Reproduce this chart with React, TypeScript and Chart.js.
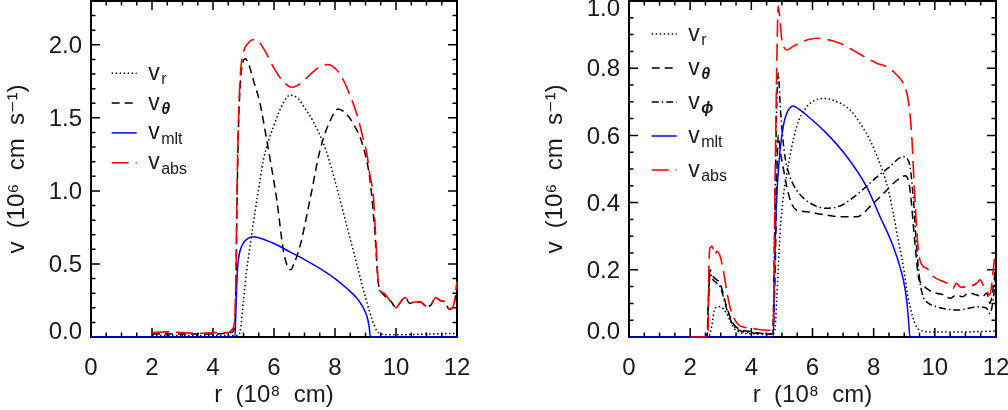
import { useEffect, useRef } from "react";
import { Chart, registerables } from "chart.js";

Chart.register(...registerables);

type Pt = [number, number];

// ---- left panel: r (10^8 cm) vs v (10^6 cm/s) ----
const leftVr: Pt[] = [
  [2.0, 0.01], [3.0, 0.01], [4.0, 0.01], [4.8, 0.01], [4.9, 0.05], [5.0, 0.25],
  [5.1, 0.45], [5.2, 0.6], [5.3, 0.75], [5.45, 0.95], [5.65, 1.21], [6.0, 1.45],
  [6.3, 1.6], [6.52, 1.655], [6.8, 1.63], [7.0, 1.57], [7.3, 1.47], [7.7, 1.28],
  [8.0, 1.07], [8.2, 0.91], [8.4, 0.75], [8.6, 0.59], [8.8, 0.43], [9.0, 0.27],
  [9.2, 0.13], [9.35, 0.05], [9.5, 0.02], [10.0, 0.015], [11.0, 0.02], [12.0, 0.025],
];
const leftVtheta: Pt[] = [
  [2.0, 0.02], [3.0, 0.02], [4.0, 0.02], [4.6, 0.03], [4.7, 0.06], [4.75, 0.3],
  [4.78, 0.8], [4.83, 1.39], [4.9, 1.75], [4.97, 1.87], [5.05, 1.905], [5.15, 1.88],
  [5.32, 1.76], [5.54, 1.6], [5.76, 1.35], [6.09, 0.94], [6.31, 0.59], [6.45, 0.48],
  [6.55, 0.46], [6.65, 0.5], [6.85, 0.62], [7.18, 0.94], [7.51, 1.28], [7.84, 1.48],
  [8.1, 1.56], [8.3, 1.54], [8.6, 1.46], [8.93, 1.3], [9.15, 1.07], [9.31, 0.71],
  [9.42, 0.37], [9.55, 0.3], [9.7, 0.27], [9.85, 0.24], [10.0, 0.2], [10.15, 0.24],
  [10.3, 0.27], [10.45, 0.23], [10.6, 0.24], [10.8, 0.24], [11.0, 0.21], [11.15, 0.22],
  [11.3, 0.27], [11.45, 0.25], [11.6, 0.24], [11.75, 0.19], [11.85, 0.2], [11.95, 0.28],
  [12.0, 0.38],
];
const leftVmlt: Pt[] = [
  [0, 0], [4.72, 0], [4.76, 0.25], [4.8, 0.45], [4.84, 0.54], [4.9, 0.6], [5.0, 0.645],
  [5.15, 0.675], [5.3, 0.686], [5.5, 0.68], [6.0, 0.64], [6.5, 0.585], [7.0, 0.53],
  [7.5, 0.47], [8.0, 0.4], [8.4, 0.33], [8.7, 0.27], [8.9, 0.21], [9.05, 0.14],
  [9.12, 0.07], [9.16, 0], [12.0, 0],
];
const leftVabs: Pt[] = [
  [2.0, 0.03], [2.5, 0.035], [3.0, 0.03], [3.5, 0.025], [4.0, 0.03], [4.5, 0.03],
  [4.62, 0.05], [4.7, 0.1], [4.75, 0.4], [4.78, 0.9], [4.83, 1.45], [4.9, 1.8],
  [5.0, 1.95], [5.15, 2.01], [5.3, 2.035], [5.45, 2.03], [5.7, 1.96], [6.0, 1.84],
  [6.3, 1.75], [6.6, 1.71], [6.9, 1.74], [7.2, 1.8], [7.5, 1.85], [7.75, 1.865],
  [8.0, 1.84], [8.27, 1.76], [8.5, 1.65], [8.71, 1.53], [8.9, 1.38], [9.04, 1.26],
  [9.15, 1.1], [9.26, 0.96], [9.33, 0.7], [9.42, 0.37], [9.5, 0.31], [9.6, 0.3],
  [9.8, 0.25], [10.0, 0.2], [10.15, 0.24], [10.3, 0.27], [10.45, 0.23], [10.6, 0.24],
  [10.8, 0.24], [11.0, 0.21], [11.15, 0.22], [11.3, 0.27], [11.45, 0.25], [11.6, 0.24],
  [11.75, 0.19], [11.85, 0.2], [11.95, 0.28], [12.0, 0.38],
];

// ---- right panel ----
const rightVr: Pt[] = [
  [2.0, 0], [2.6, 0], [2.7, 0.03], [2.81, 0.085], [2.98, 0.09], [3.19, 0.07],
  [3.3, 0.05], [3.5, 0.02], [4.0, 0.01], [4.7, 0.01], [4.78, 0.03], [4.83, 0.11],
  [4.94, 0.31], [5.05, 0.42], [5.16, 0.487], [5.48, 0.626], [5.81, 0.685], [6.1, 0.705],
  [6.35, 0.71], [6.8, 0.7], [7.23, 0.676], [7.6, 0.63], [7.88, 0.586], [8.1, 0.54],
  [8.32, 0.487], [8.5, 0.43], [8.64, 0.368], [8.8, 0.29], [8.97, 0.21], [9.1, 0.13],
  [9.19, 0.09], [9.35, 0.04], [9.52, 0.02], [10.0, 0.015], [11.0, 0.015], [12.0, 0.018],
];
const rightVtheta: Pt[] = [
  [2.0, 0], [2.55, 0], [2.6, 0.12], [2.65, 0.2], [2.75, 0.18], [2.87, 0.17],
  [2.98, 0.16], [3.19, 0.09], [3.35, 0.05], [3.5, 0.03], [4.07, 0.015], [4.5, 0.01],
  [4.7, 0.01], [4.78, 0.2], [4.84, 0.5], [4.88, 0.6], [4.95, 0.55], [5.05, 0.5],
  [5.16, 0.447], [5.3, 0.4], [5.48, 0.378], [5.81, 0.373], [6.3, 0.365], [6.9, 0.358],
  [7.44, 0.358], [7.99, 0.398], [8.3, 0.425], [8.64, 0.457], [8.9, 0.475], [9.03, 0.48],
  [9.12, 0.47], [9.2, 0.43], [9.3, 0.33], [9.37, 0.26], [9.46, 0.18], [9.57, 0.16],
  [9.8, 0.14], [10.06, 0.13], [10.3, 0.125], [10.5, 0.115], [10.71, 0.125], [10.9, 0.12],
  [11.1, 0.13], [11.37, 0.125], [11.55, 0.12], [11.7, 0.13], [11.8, 0.1], [11.9, 0.14],
  [12.0, 0.22],
];
const rightVphi: Pt[] = [
  [2.0, 0], [2.55, 0], [2.6, 0.1], [2.65, 0.19], [2.75, 0.17], [2.87, 0.16],
  [2.98, 0.15], [3.19, 0.085], [3.35, 0.045], [3.5, 0.025], [4.07, 0.012], [4.5, 0.008],
  [4.7, 0.01], [4.76, 0.3], [4.82, 0.65], [4.88, 0.785], [4.95, 0.68], [5.02, 0.6],
  [5.1, 0.537], [5.25, 0.48], [5.48, 0.4375], [5.9, 0.4], [6.46, 0.383], [6.9, 0.39],
  [7.23, 0.408], [7.6, 0.435], [7.99, 0.467], [8.5, 0.505], [8.97, 0.537], [9.1, 0.53],
  [9.19, 0.507], [9.3, 0.408], [9.41, 0.26], [9.52, 0.16], [9.62, 0.12], [9.8, 0.1],
  [10.06, 0.09], [10.4, 0.083], [10.71, 0.08], [11.0, 0.083], [11.37, 0.09], [11.6, 0.088],
  [11.7, 0.085], [11.8, 0.07], [11.92, 0.12], [12.0, 0.2],
];
const rightVmlt: Pt[] = [
  [0, 0], [4.72, 0], [4.76, 0.2], [4.8, 0.35], [4.85, 0.45], [4.94, 0.556], [5.05, 0.63],
  [5.16, 0.666], [5.37, 0.6875], [5.6, 0.675], [5.81, 0.66], [6.46, 0.606], [7.12, 0.537],
  [7.77, 0.447], [8.21, 0.358], [8.64, 0.269], [8.97, 0.17], [9.08, 0.11], [9.13, 0.06],
  [9.19, 0], [12.0, 0],
];
const rightVabs: Pt[] = [
  [2.0, 0], [2.58, 0], [2.61, 0.2], [2.65, 0.265], [2.72, 0.27], [2.81, 0.245],
  [2.87, 0.255], [2.98, 0.24], [3.1, 0.19], [3.19, 0.14], [3.3, 0.09], [3.41, 0.06],
  [3.6, 0.035], [3.74, 0.03], [4.07, 0.025], [4.5, 0.02], [4.65, 0.02], [4.72, 0.05],
  [4.77, 0.41], [4.83, 0.8], [4.88, 0.985], [4.93, 0.95], [4.99, 0.89], [5.08, 0.86],
  [5.16, 0.854], [5.37, 0.865], [5.7, 0.88], [6.14, 0.889], [6.5, 0.885], [6.9, 0.874],
  [7.3, 0.855], [7.77, 0.83], [8.1, 0.815], [8.43, 0.804], [8.7, 0.785], [8.97, 0.755],
  [9.07, 0.73], [9.13, 0.705], [9.24, 0.606], [9.35, 0.408], [9.46, 0.26], [9.62, 0.21],
  [9.73, 0.205], [9.95, 0.18], [10.28, 0.165], [10.5, 0.155], [10.6, 0.145], [10.7, 0.16],
  [10.85, 0.148], [11.04, 0.15], [11.2, 0.152], [11.37, 0.16], [11.48, 0.17], [11.6, 0.15],
  [11.7, 0.135], [11.8, 0.125], [11.9, 0.19], [11.97, 0.245], [12.0, 0.25],
];

const xTicks = [0, 2, 4, 6, 8, 10, 12];
const leftYTicks = [0, 0.5, 1.0, 1.5, 2.0];
const rightYTicks = [0, 0.2, 0.4, 0.6, 0.8, 1.0];

const FONT = "'Liberation Sans', Arial, 'DejaVu Sans', sans-serif";
const INK = "#1a1a1a";

type Series = {
  sub: string;
  greek?: boolean;
  pts: Pt[];
  color: string;
  dash: number[];
  width: number;
};

const DOT = [1.5, 2.5];
const DASH = [8, 5];
const DASHDOT = [7, 3, 1.5, 3];
const LONGDASH = [17, 7];

type PanelProps = {
  left: number;
  series: Series[];
  yMax: number;
  yTicks: number[];
  yMinor: number;
  padLeft: number;
  padRight: number;
  legendTop: number;
  legendGap: number;
  legendX: number;
};

function Panel(p: PanelProps) {
  const ref = useRef<HTMLCanvasElement>(null);

  useEffect(() => {
    if (!ref.current) return;

    const axesPlugin = {
      id: "idlAxes",
      beforeDatasetsDraw(chart: any) {
        const { ctx, chartArea: a, scales } = chart;
        const xs = scales.x;
        const ys = scales.y;
        ctx.save();
        ctx.strokeStyle = "#000";
        ctx.lineWidth = 2;
        ctx.strokeRect(a.left, a.top, a.right - a.left, a.bottom - a.top);
        ctx.lineWidth = 1.5;
        ctx.beginPath();
        for (let i = 0; i * 0.5 <= 12 + 1e-9; i++) {
          const px = xs.getPixelForValue(i * 0.5);
          const len = i % 4 === 0 ? 9 : 4.5;
          ctx.moveTo(px, a.bottom);
          ctx.lineTo(px, a.bottom - len);
          ctx.moveTo(px, a.top);
          ctx.lineTo(px, a.top + len);
        }
        const every = Math.round((p.yTicks[1] - p.yTicks[0]) / p.yMinor);
        for (let i = 0; i * p.yMinor <= p.yMax + 1e-9; i++) {
          const py = ys.getPixelForValue(i * p.yMinor);
          const len = i % every === 0 ? 9 : 4.5;
          ctx.moveTo(a.left, py);
          ctx.lineTo(a.left + len, py);
          ctx.moveTo(a.right, py);
          ctx.lineTo(a.right - len, py);
        }
        ctx.stroke();
        ctx.restore();
      },
    };

    const legendPlugin = {
      id: "idlLegend",
      afterDatasetsDraw(chart: any) {
        const { ctx, chartArea: a } = chart;
        ctx.save();
        p.series.forEach((s, i) => {
          const y = a.top + p.legendTop + i * p.legendGap;
          const x0 = a.left + p.legendX;
          ctx.strokeStyle = s.color;
          ctx.lineWidth = s.width;
          ctx.setLineDash(s.dash);
          ctx.beginPath();
          ctx.moveTo(x0, y);
          ctx.lineTo(x0 + 25, y);
          ctx.stroke();
          ctx.setLineDash([]);
          ctx.fillStyle = INK;
          ctx.textBaseline = "alphabetic";
          ctx.font = `23px ${FONT}`;
          const tx = x0 + 36.5;
          ctx.fillText("v", tx, y + 6.5);
          ctx.font = s.greek ? `bold italic 16px ${FONT}` : `16px ${FONT}`;
          ctx.fillText(s.sub, tx + 13, y + 11);
        });
        ctx.restore();
      },
    };

    const datasets = p.series
      .slice()
      .reverse()
      .map((s) => ({
        label: "v_" + s.sub,
        data: s.pts.map(([x, y]) => ({ x, y })),
        borderColor: s.color,
        borderWidth: s.width,
        borderDash: s.dash,
        pointRadius: 0,
        fill: false,
        cubicInterpolationMode: "monotone" as const,
        clip: 3,
      }));

    const chart = new Chart(ref.current, {
      type: "line",
      data: { datasets },
      options: {
        animation: false,
        responsive: true,
        maintainAspectRatio: false,
        layout: { padding: { left: p.padLeft, right: p.padRight, top: 1, bottom: 0 } },
        plugins: { legend: { display: false }, tooltip: { enabled: false } },
        scales: {
          x: {
            type: "linear",
            min: 0,
            max: 12,
            afterFit: (s: any) => {
              s.height = 73;
              s.paddingLeft = 0;
              s.paddingRight = 0;
            },
            afterBuildTicks: (s: any) => {
              s.ticks = xTicks.map((value) => ({ value }));
            },
            grid: { display: false, drawTicks: false },
            border: { display: false },
            ticks: {
              padding: 17,
              maxRotation: 0,
              autoSkip: false,
              color: INK,
              font: { family: FONT, size: 24 },
              callback: (v: any) => String(v),
            },
            title: {
              display: true,
              text: "r  (10⁸  cm)",
              color: INK,
              font: { family: FONT, size: 24 },
              padding: { top: 0, bottom: 0 },
            },
          },
          y: {
            type: "linear",
            min: 0,
            max: p.yMax,
            afterFit: (s: any) => {
              s.width = 91;
              s.paddingTop = 0;
              s.paddingBottom = 0;
            },
            afterBuildTicks: (s: any) => {
              s.ticks = p.yTicks.map((value) => ({ value }));
            },
            grid: { display: false, drawTicks: false },
            border: { display: false },
            ticks: {
              padding: 9,
              labelOffset: 1.5,
              color: INK,
              // keep the end labels inside the frame, as the original does
              font: (c: any) => {
                const v = c.tick ? c.tick.value : -1;
                const lh = v === 0 ? "12px" : v === p.yMax ? "13px" : 1.2;
                return { family: FONT, size: 24, lineHeight: lh };
              },
              callback: (v: any) => {
                const t = Number(v).toFixed(1);
                if (v === 0) return [t, ""];
                if (v === p.yMax) return ["", t];
                return t;
              },
            },
            title: {
              display: true,
              text: "v  (10⁶  cm  s⁻¹)",
              color: INK,
              font: { family: FONT, size: 24 },
              padding: { top: 3, bottom: 0 },
            },
          },
        },
      },
      plugins: [axesPlugin, legendPlugin],
    });

    return () => {
      chart.destroy();
    };
  }, []);

  return (
    <div style={{ position: "absolute", left: p.left, top: 0, width: 504, height: 410 }}>
      <canvas ref={ref} />
    </div>
  );
}

const leftSeries: Series[] = [
  { sub: "r", pts: leftVr, color: "#000", dash: DOT, width: 1.5 },
  { sub: "θ", greek: true, pts: leftVtheta, color: "#000", dash: DASH, width: 1.5 },
  { sub: "mlt", pts: leftVmlt, color: "#0000ff", dash: [], width: 1.5 },
  { sub: "abs", pts: leftVabs, color: "#ff0000", dash: LONGDASH, width: 1.6 },
];

const rightSeries: Series[] = [
  { sub: "r", pts: rightVr, color: "#000", dash: DOT, width: 1.5 },
  { sub: "θ", greek: true, pts: rightVtheta, color: "#000", dash: DASH, width: 1.5 },
  { sub: "ϕ", greek: true, pts: rightVphi, color: "#000", dash: DASHDOT, width: 1.5 },
  { sub: "mlt", pts: rightVmlt, color: "#0000ff", dash: [], width: 1.5 },
  { sub: "abs", pts: rightVabs, color: "#ff0000", dash: LONGDASH, width: 1.6 },
];

export default function App() {
  return (
    <div style={{ position: "absolute", left: 0, top: 0, width: 1008, height: 410, background: "#fff" }}>
      <Panel
        left={0}
        series={leftSeries}
        yMax={2.3}
        yTicks={leftYTicks}
        yMinor={0.1}
        padLeft={0}
        padRight={47}
        legendTop={72.3}
        legendGap={29.8}
        legendX={20.7}
      />
      <Panel
        left={504}
        series={rightSeries}
        yMax={1.0}
        yTicks={rightYTicks}
        yMinor={0.05}
        padLeft={34}
        padRight={12}
        legendTop={33}
        legendGap={34}
        legendX={22.7}
      />
    </div>
  );
}
